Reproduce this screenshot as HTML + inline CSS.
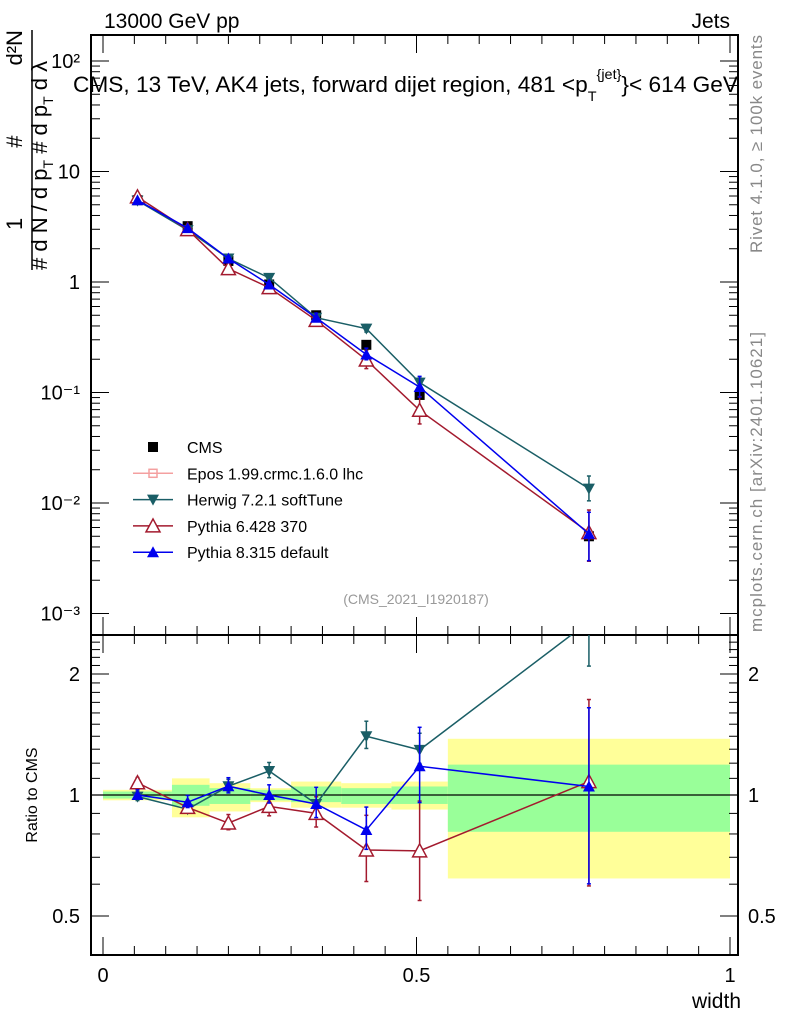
<!DOCTYPE html>
<html><head><meta charset="utf-8"><style>
body{margin:0;background:#fff}svg{display:block;font-family:"Liberation Sans",sans-serif}
</style></head><body>
<svg id="c" width="786" height="1024" viewBox="0 0 786 1024"></svg>
<script>
const xCenters=[0.055,0.135,0.2,0.265,0.34,0.42,0.505,0.775];
const binEdges=[0,0.11,0.17,0.235,0.3,0.38,0.46,0.55,1.0];
const cmsValues=[5.5,3.2,1.55,0.95,0.5,0.27,0.095,0.005];
const herwigValues=[5.45,2.95,1.63,1.09,0.475,0.378,0.123,0.0135];
const herwigRelErr=[0.03,0.03,0.04,0.05,0.05,0.09,0.1,0.3];
const pythia6Values=[5.9,2.98,1.32,0.89,0.45,0.197,0.069,0.0054];
const pythia6RelErr=[0.03,0.04,0.05,0.07,0.1,0.22,0.33,0.6];
const pythia8Values=[5.5,3.07,1.63,0.95,0.475,0.221,0.112,0.00525];
const pythia8RelErr=[0.03,0.04,0.05,0.06,0.1,0.14,0.25,0.57];
const bandGreenLo=[0.98,0.94,0.95,0.97,0.96,0.95,0.95,0.81];
const bandGreenHi=[1.02,1.06,1.04,1.03,1.05,1.04,1.05,1.19];
const bandYellowLo=[0.97,0.88,0.91,0.96,0.93,0.93,0.92,0.62];
const bandYellowHi=[1.03,1.1,1.07,1.04,1.08,1.07,1.08,1.38];
const yTickLabels=["10\u207B\u00B3","10\u207B\u00B2","10\u207B\u00B9","1","10","10\u00B2"];
const ratioTicks=[0.5,1,2];
const xTicks=[0,0.5,1];

const NS="http://www.w3.org/2000/svg",svg=document.getElementById('c');
function el(t,a,p){const e=document.createElementNS(NS,t);for(const k in a)e.setAttribute(k,a[k]);(p||svg).appendChild(e);return e;}
const L=91,R=738,T=35,MB=635,RB=955;
const X=v=>103+v*627;
const Y=v=>282-Math.log10(v)*110.5;
const RY=v=>795-Math.log10(v)*402;

for(let i=0;i<8;i++){
 let b=el('rect',{x:X(binEdges[i]),y:RY(bandYellowHi[i]),width:X(binEdges[i+1])-X(binEdges[i]),height:RY(bandYellowLo[i])-RY(bandYellowHi[i]),fill:'#ffff99'});
 
 let g=el('rect',{x:X(binEdges[i]),y:RY(bandGreenHi[i]),width:X(binEdges[i+1])-X(binEdges[i]),height:RY(bandGreenLo[i])-RY(bandGreenHi[i]),fill:'#99ff99'});
 
}
let one=el('line',{x1:L,x2:R,y1:RY(1),y2:RY(1),stroke:'#000','stroke-width':1.2});


for(const [t,b,n] of [[T,MB,'main-plot-frame'],[MB,RB,'ratio-plot-frame']]){
 const f=el('rect',{x:L,y:t,width:R-L,height:b-t,fill:'none',stroke:'#000','stroke-width':2});
 
}
const clipM=el('clipPath',{id:'cm'});el('rect',{x:L,y:T,width:R-L,height:MB-T},clipM);
const clipR=el('clipPath',{id:'cr'});el('rect',{x:L,y:MB,width:R-L,height:RB-MB},clipR);

for(let i=0;i<=20;i++){const v=i*0.05,big=i%10==0,len=big?18:9;
 for(const [t,b] of [[T,MB],[MB,RB]]){el('line',{x1:X(v),x2:X(v),y1:b,y2:b-len,stroke:'#000'});el('line',{x1:X(v),x2:X(v),y1:t,y2:t+len,stroke:'#000'});}}
xTicks.forEach(v=>{const t=el('text',{x:X(v),y:982,'font-size':20,'text-anchor':'middle'});t.textContent=String(v);
 });
for(let d=-3;d<=2;d++){for(let m=1;m<10;m++){const v=m*Math.pow(10,d),y=Y(v);if(y<T||y>MB)continue;const len=m==1?18:9;
 el('line',{x1:L,x2:L+len,y1:y,y2:y,stroke:'#000'});el('line',{x1:R,x2:R-len,y1:y,y2:y,stroke:'#000'});}
 const t=el('text',{x:80,y:Y(Math.pow(10,d))+7,'font-size':20,'text-anchor':'end'});t.textContent=yTickLabels[d+3];
 }
for(let v=0.4;v<=2.51;v+=0.1){const y=RY(v);if(y<MB||y>RB)continue;const big=[0.5,1,2].some(q=>Math.abs(q-v)<1e-6);const len=big?18:9;
 el('line',{x1:L,x2:L+len,y1:y,y2:y,stroke:'#000'});el('line',{x1:R,x2:R-len,y1:y,y2:y,stroke:'#000'});}
ratioTicks.forEach(v=>{for(const [x,a] of [[80,'end'],[748,'start']]){const t=el('text',{x:x,y:RY(v)+7,'font-size':20,'text-anchor':a});t.textContent=String(v);
 }});

function marker(g,type,x,y,c){
 if(type=='sq')el('rect',{x:x-5,y:y-5,width:10,height:10,fill:c},g);
 else if(type=='down')el('polygon',{points:`${x-6},${y-5} ${x+6},${y-5} ${x},${y+6}`,fill:c},g);
 else if(type=='up')el('polygon',{points:`${x-6},${y+5} ${x+6},${y+5} ${x},${y-6}`,fill:c},g);
 else if(type=='upo')el('polygon',{points:`${x-7},${y+6} ${x+7},${y+6} ${x},${y-7}`,fill:'#fff',stroke:c,'stroke-width':1.5},g);
}
function series(name,vals,err,color,type){
 for(const [yf,ratio,clip] of [[Y,false,'cm'],[RY,true,'cr']]){
  const g=el('g',{'clip-path':`url(#${clip})`});
  
  const val=i=>ratio?vals[i]/cmsValues[i]:vals[i];
  if(color!='#000'){el('polyline',{points:vals.map((v,i)=>X(xCenters[i])+','+yf(val(i))).join(' '),fill:'none',stroke:color,'stroke-width':1.5},g);}
  vals.forEach((v,i)=>{const x=X(xCenters[i]),y=yf(val(i));
   if(err){const e=err[i];const hi=yf(val(i)*(1+e)),lo=yf(val(i)*(1-e*0.75));
    el('line',{x1:x,x2:x,y1:hi,y2:lo,stroke:color,'stroke-width':1.5},g);
    for(const yy of [hi,lo])el('line',{x1:x-2,x2:x+2,y1:yy,y2:yy,stroke:color,'stroke-width':1.5},g);}
   if(!(ratio&&color=='#000'))marker(g,type,x,y,color);});
 }
}
series('cms',cmsValues,null,'#000','sq');
series('herwig',herwigValues,herwigRelErr,'#1a5e66','down');
series('pythia6',pythia6Values,pythia6RelErr,'#a31a2e','upo');
series('pythia8',pythia8Values,pythia8RelErr,'#0000ee','up');

const leg=[['CMS','#000','sq'],['Epos 1.99.crmc.1.6.0 lhc','#f4a0a0','plus'],['Herwig 7.2.1 softTune','#1a5e66','down'],['Pythia 6.428 370','#a31a2e','upo'],['Pythia 8.315 default','#0000ee','up']];
leg.forEach((l,i)=>{const y=447+i*26.3;const g=el('g',{});
 if(l[2]!='sq')el('line',{x1:133,x2:173,y1:y,y2:y,stroke:l[1],'stroke-width':1.5},g);
 if(l[2]=='plus'){el('rect',{x:149,y:y-4,width:8,height:8,fill:'none',stroke:l[1],'stroke-width':1.5},g);}
 else marker(g,l[2],153,y,l[1]);
 const t=el('text',{x:187,y:y+6,'font-size':16},g);t.textContent=l[0];});

function txt(s,a,name){const t=el('text',a);t.textContent=s;return t;}
txt('13000 GeV pp',{x:104,y:28,'font-size':21},'header-left');
txt('Jets',{x:730,y:28,'font-size':21,'text-anchor':'end'},'header-right');
const title=txt('',{x:73,y:92,'font-size':22,textLength:665,lengthAdjust:'spacingAndGlyphs'},'plot-title');
title.innerHTML='CMS, 13 TeV, AK4 jets, forward dijet region, 481 &lt;p<tspan dy="9" font-size="14">T</tspan><tspan dy="-22" font-size="14">{jet}</tspan><tspan dy="13">}&lt; 614 GeV</tspan>';
txt('(CMS_2021_I1920187)',{x:416,y:604,'font-size':14,fill:'#999','text-anchor':'middle'},'analysis-id');
txt('width',{x:741,y:1008,'font-size':21,'text-anchor':'end'},'x-axis-title');
txt('Ratio to CMS',{x:0,y:0,'font-size':16,'text-anchor':'middle',transform:'translate(37,795) rotate(-90)'},'ratio-y-axis-title');
const yt=txt('',{x:0,y:0,'font-size':22,transform:'translate(47,270) rotate(-90)'},'y-axis-title');
yt.innerHTML='# <tspan font-size="0"> </tspan>d N / d p<tspan font-size="14" dy="6">T</tspan><tspan dy="-6"> # d p</tspan><tspan font-size="14" dy="6">T</tspan><tspan dy="-6"> d λ</tspan>';
el('line',{x1:32,x2:32,y1:30,y2:270,stroke:'#000','stroke-width':1.5});
const yt2=txt('',{x:0,y:0,'font-size':22,transform:'translate(22,230) rotate(-90)'},'y-axis-title-numerator');
yt2.innerHTML='1<tspan dx="70">#</tspan><tspan dx="70">d²N</tspan>';
txt('Rivet 4.1.0, ≥ 100k events',{x:0,y:0,'font-size':17,fill:'#888',textLength:218,transform:'translate(762,253) rotate(-90)'},'rivet-label');
txt('mcplots.cern.ch [arXiv:2401.10621]',{x:0,y:0,'font-size':17,fill:'#888',textLength:300,transform:'translate(762,632) rotate(-90)'},'mcplots-label');
</script>
</body></html>
